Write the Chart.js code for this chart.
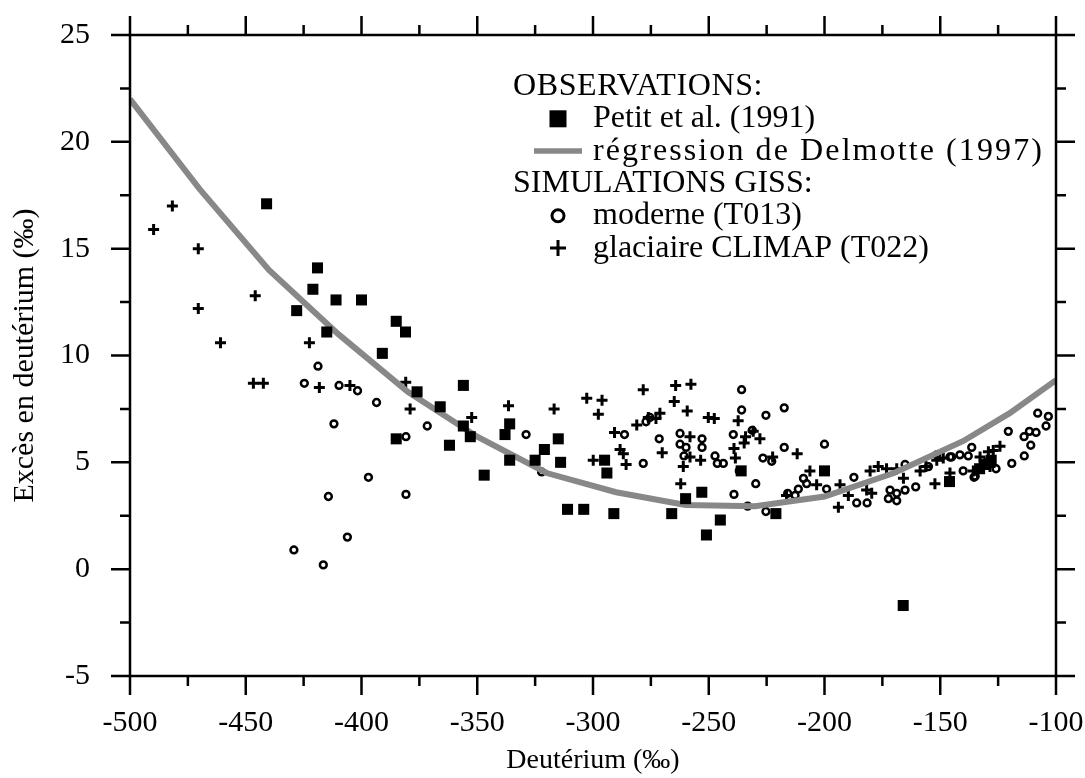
<!DOCTYPE html>
<html>
<head>
<meta charset="utf-8">
<script src="https://cdn.jsdelivr.net/npm/chart.js@4"></script>
<style>
html, body { margin: 0; padding: 0; background: #fff; }
#wrap { width: 1085px; height: 778px; }
</style>
</head>
<body>
<div id="wrap"><canvas id="myChart"></canvas></div>
<script>
const xTicks = [-500, -450, -400, -350, -300, -250, -200, -150, -100]
const yTicks = [-5, 0, 5, 10, 15, 20, 25]

// Petit et al. (1991)
const petitX = [-441, -419, -421, -411, -400, -428, -415, -385, -381, -391, -376, -356, -366, -385, -362, -356, -353, -347, -336, -338, -336, -321, -325, -315, -314, -311, -304, -295, -294, -291, -266, -260, -253, -245, -251, -236, -221, -200, -146, -166, -131, -128, -133]
const petitY = [17.1, 14.1, 13.1, 12.6, 12.6, 12.1, 11.1, 11.6, 11.1, 10.1, 8.3, 8.6, 7.6, 6.1, 5.8, 6.7, 6.2, 4.4, 6.8, 6.3, 5.1, 5.6, 5.1, 6.1, 5.0, 2.8, 2.8, 5.1, 4.5, 2.6, 2.6, 3.3, 3.6, 2.3, 1.6, 4.6, 2.6, 4.6, 4.1, -1.7, 4.9, 5.1, 4.7]

// régression de Delmotte (1997)
const delmotteX = [-500, -470, -440, -410, -380, -350, -320, -290, -260, -230, -200, -170, -140, -120, -100]
const delmotteY = [22.0, 17.8, 14.0, 11.0, 8.3, 6.2, 4.5, 3.6, 3.0, 2.95, 3.4, 4.5, 6.0, 7.3, 8.85]

// moderne (T013)
const modX = [-418.8, -424.7, -409.7, -401.7, -411.9, -397, -414.3, -406.1, -429.2, -416.5, -393.5, -371.6, -380.8, -380.8, -328.9, -322.2, -286.4, -278.3, -277.1, -275.4, -271.4, -262.4, -262.4, -259.8, -260.7, -252.9, -252.9, -247.3, -246.3, -243.7, -235.8, -235.8, -239.4, -231.2, -236.8, -229.7, -239.1, -233.2, -225.3, -225.3, -217.4, -226.6, -222.8, -217.4, -200, -209.1, -207.7, -211.3, -215.9, -212.7, -199.1, -187.3, -186.1, -181.6, -172.4, -168.8, -171.7, -168.8, -165.2, -165.2, -160.6, -155.1, -151.5, -145.1, -141.5, -137.9, -136.4, -140.1, -135.4, -125.9, -120.6, -119.1, -113.7, -113.8, -111.5, -110.9, -108.6, -107.9, -104.3, -103.3, -145.8, -134.9]
const modY = [9.5, 8.7, 8.6, 8.35, 6.8, 4.3, 3.4, 1.5, 0.9, 0.2, 7.8, 6.7, 6.2, 3.5, 6.3, 4.55, 6.3, 4.95, 6.9, 7.1, 6.1, 6.35, 5.85, 5.7, 5.3, 6.1, 5.7, 5.3, 4.95, 4.95, 8.4, 7.45, 6.3, 6.5, 4.6, 4.0, 3.5, 2.95, 2.7, 7.2, 7.55, 5.2, 5.05, 5.7, 5.85, 4.25, 4.0, 3.75, 3.55, 3.45, 3.75, 4.3, 3.1, 3.1, 3.3, 3.2, 3.7, 3.55, 3.7, 4.9, 3.85, 4.8, 5.35, 5.25, 5.35, 5.3, 5.7, 4.6, 4.3, 4.7, 6.45, 4.95, 5.3, 6.2, 6.45, 5.8, 6.4, 7.3, 6.7, 7.15, 5.25, 4.35]

// glaciaire CLIMAP (T022)
const glacX = [-481.7, -489.8, -470.5, -470.5, -445.9, -460.9, -422.5, -446.7, -442.4, -418.2, -405, -380.9, -379, -352.4, -336.5, -316.8, -302.7, -297.7, -299.9, -296.1, -290.7, -288.3, -286.9, -285.7, -278.3, -281.1, -276.1, -271.1, -272.8, -264.3, -257.7, -264.9, -259.3, -270.1, -258.1, -258.1, -261, -262.1, -253.5, -250.2, -247.6, -237.3, -239.1, -238.5, -234.1, -234.7, -227.9, -222.4, -211.8, -206.3, -203.4, -216.4, -230.8, -193.3, -194, -189.7, -180.3, -176.8, -173.2, -181.8, -179.6, -168.8, -165.9, -158.7, -156.2, -152.3, -151.5, -148.7, -145.8, -132.8, -129.2, -127.1, -124.2, -130.7, -128.5, -135.7]
const glacY = [17.0, 15.9, 15.0, 12.2, 12.8, 10.6, 10.6, 8.7, 8.7, 8.5, 8.6, 8.75, 7.5, 7.1, 7.65, 7.5, 8.0, 7.25, 5.1, 7.9, 6.4, 5.6, 5.4, 4.9, 8.4, 6.75, 7.1, 7.3, 7.05, 8.6, 8.65, 7.85, 7.4, 5.45, 6.2, 5.25, 4.8, 4.0, 5.1, 7.1, 7.05, 6.95, 5.65, 5.2, 6.2, 5.9, 6.1, 5.25, 5.4, 4.6, 3.95, 3.45, 6.45, 3.95, 2.9, 3.45, 4.6, 4.8, 4.7, 3.7, 3.55, 4.7, 4.25, 4.6, 4.8, 4.0, 5.1, 5.2, 4.5, 5.25, 5.5, 5.55, 5.75, 4.95, 4.8, 4.6]

const pts = (xs, ys) => xs.map((v, i) => ({x: v, y: ys[i]}))
const serif = "'Liberation Serif', 'Times New Roman', serif"

// pas de marge automatique autour des axes : la zone du graphe est fixée par les afterFit
const noPad = s => { s.paddingTop = 0; s.paddingBottom = 0; s.paddingLeft = 0; s.paddingRight = 0 }

// cadre et graduations (majeures + mineures) sur les 4 côtés
const frame = {
    id: 'frame',
    afterDatasetsDraw(chart) {
        const {ctx, chartArea: a, scales: {x, y}} = chart
        const big = 19, small = 10
        ctx.save()
        ctx.strokeStyle = '#000'
        ctx.lineWidth = 2.5
        ctx.strokeRect(a.left, a.top, a.right - a.left, a.bottom - a.top)
        ctx.beginPath()
        for (let i = 0; i < xTicks.length; i++) {
            const px = x.getPixelForValue(xTicks[i])
            ctx.moveTo(px, a.bottom); ctx.lineTo(px, a.bottom + big)
            ctx.moveTo(px, a.top); ctx.lineTo(px, a.top - big)
            if (i < xTicks.length - 1) {
                const pm = x.getPixelForValue((xTicks[i] + xTicks[i + 1]) / 2)
                ctx.moveTo(pm, a.bottom); ctx.lineTo(pm, a.bottom + small)
                ctx.moveTo(pm, a.top); ctx.lineTo(pm, a.top - small)
            }
        }
        for (let i = 0; i < yTicks.length; i++) {
            const py = y.getPixelForValue(yTicks[i])
            ctx.moveTo(a.left, py); ctx.lineTo(a.left - big, py)
            ctx.moveTo(a.right, py); ctx.lineTo(a.right + big, py)
            if (i < yTicks.length - 1) {
                const pm = y.getPixelForValue((yTicks[i] + yTicks[i + 1]) / 2)
                ctx.moveTo(a.left, pm); ctx.lineTo(a.left - small, pm)
                ctx.moveTo(a.right, pm); ctx.lineTo(a.right + small, pm)
            }
        }
        ctx.stroke()
        ctx.restore()
    }
}

// légende avec les en-têtes
const legendBox = {
    id: 'legendBox',
    afterDraw(chart) {
        const ctx = chart.ctx
        ctx.save()
        ctx.font = '32px ' + serif
        ctx.fillStyle = '#000'
        ctx.textBaseline = 'alphabetic'
        const hx = 513, tx = 593, sx = 558
        const base = [95, 127.3, 159.6, 192, 224.3, 256.6]
        ctx.letterSpacing = '0.6px'
        ctx.fillText('OBSERVATIONS:', hx, base[0])
        ctx.letterSpacing = '0px'
        ctx.fillText('Petit et al. (1991)', tx, base[1])
        ctx.letterSpacing = '2.1px'
        ctx.fillText('régression de Delmotte (1997)', tx, base[2])
        ctx.letterSpacing = '0px'
        ctx.fillText('SIMULATIONS GISS:', hx, base[3])
        ctx.fillText('moderne (T013)', tx, base[4])
        ctx.fillText('glaciaire CLIMAP (T022)', tx, base[5])
        // symboles
        ctx.fillRect(sx - 8.5, base[1] - 8.5 - 8.5, 17, 17)
        ctx.strokeStyle = '#888'
        ctx.lineWidth = 5.5
        ctx.beginPath(); ctx.moveTo(534, base[2] - 8.5); ctx.lineTo(582, base[2] - 8.5); ctx.stroke()
        ctx.strokeStyle = '#000'
        ctx.lineWidth = 3
        ctx.beginPath(); ctx.arc(sx, base[4] - 8.5, 6, 0, Math.PI * 2); ctx.stroke()
        ctx.beginPath()
        ctx.moveTo(sx - 8, base[5] - 8.5); ctx.lineTo(sx + 8, base[5] - 8.5)
        ctx.moveTo(sx, base[5] - 16.5); ctx.lineTo(sx, base[5] - 0.5)
        ctx.stroke()
        ctx.restore()
    }
}

const myChart = document.getElementById('myChart')
new Chart(myChart, {
    type: 'scatter',
    data: {
        datasets: [
            {
                label: 'Petit et al. (1991)',
                data: pts(petitX, petitY),
                pointStyle: 'rect',
                pointRadius: 7.8,
                backgroundColor: '#000',
                borderWidth: 0,
            },
            {
                label: 'régression de Delmotte (1997)',
                data: pts(delmotteX, delmotteY),
                showLine: true,
                pointRadius: 0,
                borderColor: '#888',
                borderWidth: 6,
                tension: 0,
            },
            {
                label: 'moderne (T013)',
                data: pts(modX, modY),
                pointStyle: 'circle',
                pointRadius: 3.4,
                borderWidth: 2.5,
                borderColor: '#000',
                backgroundColor: 'rgba(0,0,0,0)',
            },
            {
                label: 'glaciaire CLIMAP (T022)',
                data: pts(glacX, glacY),
                pointStyle: 'cross',
                pointRadius: 5.5,
                borderWidth: 3,
                borderColor: '#000',
            },
        ]
    },
    options: {
        responsive: true,
        maintainAspectRatio: false,
        animation: false,
        layout: { padding: 0 },
        plugins: {
            legend: { display: false },
            tooltip: { enabled: false },
        },
        scales: {
            x: {
                type: 'linear',
                position: 'bottom',
                min: -500,
                max: -100,
                afterBuildTicks: s => { s.ticks = xTicks.map(v => ({value: v})) },
                afterFit: s => { s.height = 102; noPad(s) },
                grid: { display: false },
                border: { display: false },
                ticks: { color: '#000', font: { family: serif, size: 30 }, padding: 21, maxRotation: 0, autoSkip: false },
                title: { display: true, text: 'Deutérium (‰)', color: '#000', font: { family: serif, size: 28 }, padding: { top: 0, bottom: 1 } },
            },
            y: {
                type: 'linear',
                position: 'left',
                min: -5,
                max: 25,
                afterBuildTicks: s => { s.ticks = yTicks.map(v => ({value: v})) },
                afterFit: s => { s.width = 130; noPad(s) },
                grid: { display: false },
                border: { display: false },
                ticks: { color: '#000', font: { family: serif, size: 30 }, padding: 32, autoSkip: false },
                title: { display: true, text: 'Excès en deutérium (‰)', color: '#000', font: { family: serif, size: 30 }, padding: { top: 7, bottom: 0 } },
            },
            x2: {
                type: 'linear',
                position: 'top',
                min: -500,
                max: -100,
                afterFit: s => { s.height = 35; noPad(s) },
                grid: { display: false },
                border: { display: false },
                ticks: { display: false },
            },
            y2: {
                type: 'linear',
                position: 'right',
                min: -5,
                max: 25,
                afterFit: s => { s.width = 29; noPad(s) },
                grid: { display: false },
                border: { display: false },
                ticks: { display: false },
            },
        }
    },
    plugins: [frame, legendBox]
});
</script>
</body>
</html>
